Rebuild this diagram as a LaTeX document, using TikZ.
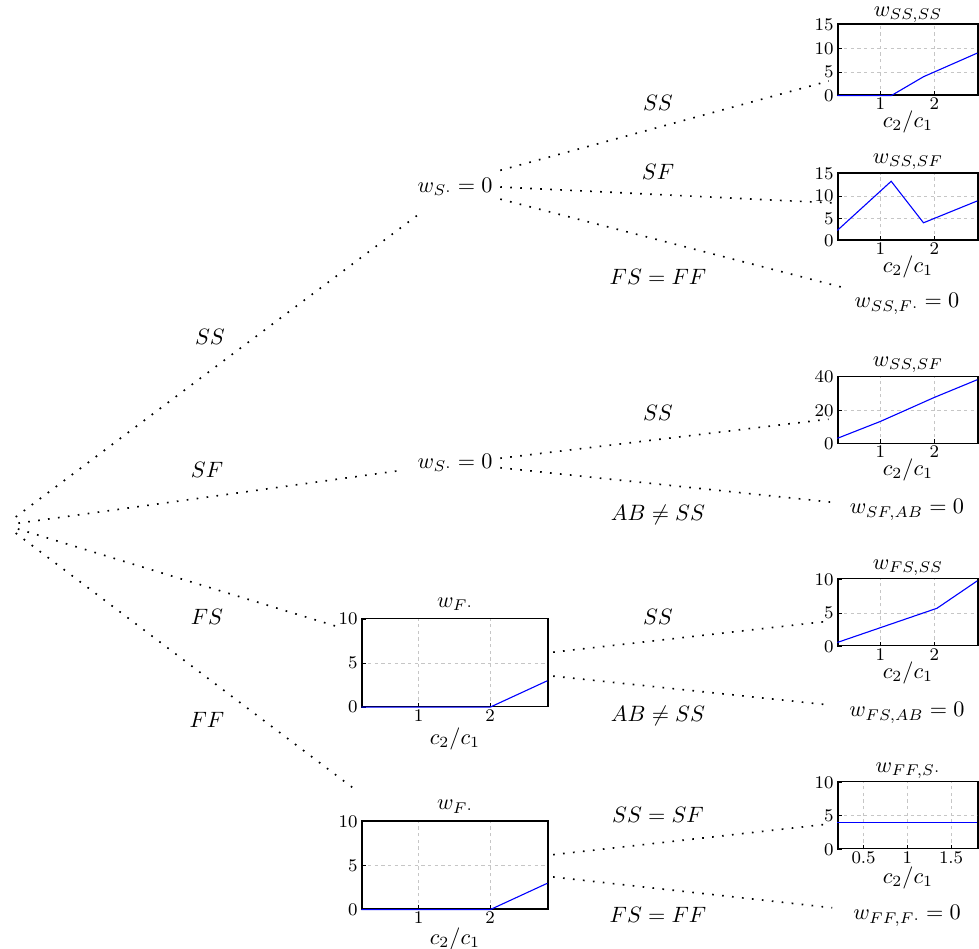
\documentclass[tikz,border=0pt]{standalone}
\usetikzlibrary{positioning}

\tikzset{
    dotwire/.style={line width=0.75pt, dash pattern=on 0.75pt off 3.75pt},
    plotframe/.style={draw=black, line width=0.6pt, inner sep=0pt, minimum width=63pt, minimum height=30.15pt},
    bigframe/.style={plotframe, minimum width=83.7pt, minimum height=39.6pt},
    gridline/.style={gray!45, line width=0.4pt, dash pattern=on 1.5pt off 1.5pt},
    dataline/.style={blue, line width=0.5pt},
    xtick/.style={below, font=\footnotesize, inner sep=1pt},
    ytick/.style={left, font=\footnotesize, inner sep=1.5pt},
    ptitle/.style={inner sep=1pt},
    xname/.style={inner sep=1pt}
}

\begin{document}
\begin{tikzpicture}[x=0.45pt, y=-0.45pt]
        \useasboundingbox (0,0) rectangle (979,949);

        % decision nodes
        \node[circle, inner sep=0pt, minimum size=11.7pt] (root) at (5,525) {};
        \node (wSone) at (455,187) {$w_{S\cdot}=0$};
        \node (wStwo) at (455,463) {$w_{S\cdot}=0$};

        % leaves
        \node (wSSF) at (907,304) {$w_{SS,F\cdot}=0$};
        \node (wSFAB) at (907,510) {$w_{SF,AB}=0$};
        \node (wFSAB) at (907,713) {$w_{FS,AB}=0$};
        \node (wFFF) at (907,916) {$w_{FF,F\cdot}=0$};

        % plot frames
        \node[bigframe] (plotFone) at (455,662.5) {};
        \node[bigframe] (plotFtwo) at (455,865) {};
        \node[plotframe, minimum height=31.95pt] (pSSSS) at (908,59.5) {};
        \node[plotframe] (pSSSF) at (908,206.5) {};
        \node[plotframe] (pSFSS) at (908,409.7) {};
        \node[plotframe] (pFSSS) at (908,612.3) {};
        \node[plotframe] (pFFS) at (908,815.2) {};

        % titles and axis names
        \node[ptitle, above=-1pt of pSSSS] (tSSSS) {$w_{SS,SS}$};
        \node[ptitle, above=0pt of pSSSF] (tSSSF) {$w_{SS,SF}$};
        \node[ptitle, above=0pt of pSFSS] (tSFSS) {$w_{SS,SF}$};
        \node[ptitle, above=0pt of pFSSS] (tFSSS) {$w_{FS,SS}$};
        \node[ptitle, above=0pt of pFFS] (tFFS) {$w_{FF,S\cdot}$};
        \node[ptitle, above=2pt of plotFone] (tFone) {$w_{F\cdot}$};
        \node[ptitle, above=2pt of plotFtwo] (tFtwo) {$w_{F\cdot}$};
        \node[xname, below=5.5pt of pSSSS] (xSSSS) {$c_2/c_1$};
        \node[xname, below=5.5pt of pSSSF] (xSSSF) {$c_2/c_1$};
        \node[xname, below=5.5pt of pSFSS] (xSFSS) {$c_2/c_1$};
        \node[xname, below=5.5pt of pFSSS] (xFSSS) {$c_2/c_1$};
        \node[xname, below=6.5pt of pFFS] (xFFS) {$c_2/c_1$};
        \node[xname, below=8pt of plotFone] (xFone) {$c_2/c_1$};
        \node[xname, below=7pt of plotFtwo] (xFtwo) {$c_2/c_1$};

        % plot contents
        \begin{scope}[shift={(pSSSS.south west)}, x=24.23pt, y=2.13pt, shift={(-0.2,0)}]
            \foreach \xt in {1,2} {
                \draw[gridline] (\xt,0) -- (\xt,15);
                \draw (\xt,0) -- ++(0,2pt);
                \node[xtick] (ssssX\xt) at (\xt,0) {$\xt$};
            }
            \foreach \yt in {5,10} \draw[gridline] (0.2,\yt) -- (2.8,\yt);
            \foreach \yt in {0,5,10,15} {
                \draw (0.2,\yt) -- ++(2pt,0);
                \node[ytick] (ssssY\yt) at (0.2,\yt) {$\yt$};
            }
            \draw[dataline] (0.2,0) -- (1.2,0) -- (1.8,4) -- (2.8,9);
        \end{scope}
        \begin{scope}[shift={(pSSSF.south west)}, x=24.23pt, y=2.01pt, shift={(-0.2,0)}]
            \foreach \xt in {1,2} {
                \draw[gridline] (\xt,0) -- (\xt,15);
                \draw (\xt,0) -- ++(0,2pt);
                \node[xtick] (sssfX\xt) at (\xt,0) {$\xt$};
            }
            \foreach \yt in {5,10} \draw[gridline] (0.2,\yt) -- (2.8,\yt);
            \foreach \yt in {0,5,10,15} {
                \draw (0.2,\yt) -- ++(2pt,0);
                \node[ytick] (sssfY\yt) at (0.2,\yt) {$\yt$};
            }
            \draw[dataline] (0.2,2.3) -- (1.2,13.3) -- (1.8,4) -- (2.8,8.9);
        \end{scope}
        \begin{scope}[shift={(pSFSS.south west)}, x=24.23pt, y=0.754pt, shift={(-0.2,0)}]
            \foreach \xt in {1,2} {
                \draw[gridline] (\xt,0) -- (\xt,40);
                \draw (\xt,0) -- ++(0,2pt);
                \node[xtick] (sfssX\xt) at (\xt,0) {$\xt$};
            }
            \draw[gridline] (0.2,20) -- (2.8,20);
            \foreach \yt in {0,20,40} {
                \draw (0.2,\yt) -- ++(2pt,0);
                \node[ytick] (sfssY\yt) at (0.2,\yt) {$\yt$};
            }
            \draw[dataline] (0.2,3.3) -- (1,13.4) -- (2,27.7) -- (2.8,38.3);
        \end{scope}
        \begin{scope}[shift={(pFSSS.south west)}, x=24.23pt, y=3.015pt, shift={(-0.2,0)}]
            \foreach \xt in {1,2} {
                \draw[gridline] (\xt,0) -- (\xt,10);
                \draw (\xt,0) -- ++(0,2pt);
                \node[xtick] (fsssX\xt) at (\xt,0) {$\xt$};
            }
            \draw[gridline] (0.2,5) -- (2.8,5);
            \foreach \yt in {0,5,10} {
                \draw (0.2,\yt) -- ++(2pt,0);
                \node[ytick] (fsssY\yt) at (0.2,\yt) {$\yt$};
            }
            \draw[dataline] (0.2,0.6) -- (2.05,5.7) -- (2.8,9.8);
        \end{scope}
        \begin{scope}[shift={(pFFS.south west)}, x=39.375pt, y=3.015pt, shift={(-0.2,0)}]
            \foreach \xt [count=\i] in {0.5,1,1.5} {
                \draw[gridline] (\xt,0) -- (\xt,10);
                \draw (\xt,0) -- ++(0,2pt);
                \node[xtick] (ffsX\i) at (\xt,0) {$\xt$};
            }
            \draw[gridline] (0.2,5) -- (1.8,5);
            \foreach \yt in {0,5,10} {
                \draw (0.2,\yt) -- ++(2pt,0);
                \node[ytick] (ffsY\yt) at (0.2,\yt) {$\yt$};
            }
            \draw[dataline] (0.2,4) -- (1.8,4);
        \end{scope}
        \foreach \p in {plotFone,plotFtwo} {
            \begin{scope}[shift={(\p.south west)}, x=32.19pt, y=3.96pt, shift={(-0.2,0)}]
                \foreach \xt in {1,2} {
                    \draw[gridline] (\xt,0) -- (\xt,10);
                    \draw (\xt,0) -- ++(0,2pt);
                    \node[xtick] (\p X\xt) at (\xt,0) {$\xt$};
                }
                \draw[gridline] (0.2,5) -- (2.8,5);
                \foreach \yt in {0,5,10} {
                    \draw (0.2,\yt) -- ++(2pt,0);
                    \node[ytick] (\p Y\yt) at (0.2,\yt) {$\yt$};
                }
                \draw[dataline] (0.2,0) -- (2,0) -- (2.8,3);
            \end{scope}
        }

        % branch labels
        \node (lSS) at (210,337) {$SS$};
        \node (lSF) at (207,470) {$SF$};
        \node (lFS) at (207,617) {$FS$};
        \node (lFF) at (207,720) {$FF$};
        \node (lSSa) at (658,103) {$SS$};
        \node (lSFa) at (658,172) {$SF$};
        \node (lFSa) at (658,277) {$FS=FF$};
        \node (lSSb) at (658,413) {$SS$};
        \node (lABb) at (658,515) {$AB\neq SS$};
        \node (lSSc) at (658,617) {$SS$};
        \node (lABc) at (658,716) {$AB\neq SS$};
        \node (lSSd) at (658,815) {$SS=SF$};
        \node (lFSd) at (658,915) {$FS=FF$};

        \begin{scope}[every edge/.style={draw=black, dotwire}]
            \draw (root) edge[shorten >=9pt] (wSone);
            \draw (root) edge[shorten >=4pt] (wStwo);
            \draw (root) edge[shorten >=10pt] (plotFone);
            \draw (root) edge[shorten >=24pt] (plotFtwo);
            \draw (wSone.north east) edge[shorten >=4pt] (pSSSS);
            \draw (wSone.east) edge (pSSSF);
            \draw (wSone.-15) edge[shorten >=2pt] (wSSF);
            \draw (wStwo.6) edge[shorten >=4pt] (pSFSS);
            \draw (wStwo.-6) edge[shorten >=3pt] (wSFAB);
            \draw (plotFone.6.5) edge[shorten <=2pt, shorten >=4pt] (pFSSS);
            \draw (plotFone.-8) edge[shorten <=2pt, shorten >=6pt] (wFSAB);
            \draw (plotFtwo.6) edge[shorten <=2pt, shorten >=4pt] (pFFS);
            \draw (plotFtwo.-7.5) edge[shorten <=2pt, shorten >=6pt] (wFFF);
        \end{scope}
    \end{tikzpicture}
\end{document}
